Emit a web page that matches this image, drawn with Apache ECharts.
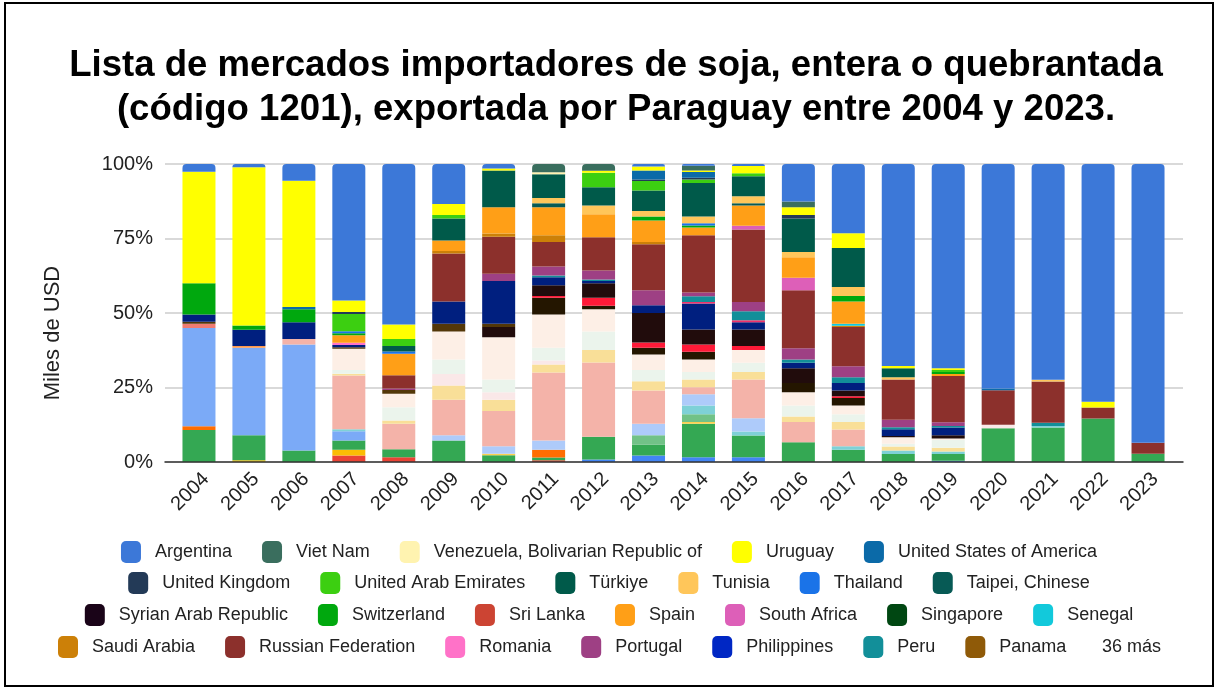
<!DOCTYPE html>
<html>
<head>
<meta charset="utf-8">
<script src="https://cdn.jsdelivr.net/npm/echarts@6/dist/echarts.min.js"></script>
<style>
html,body{margin:0;padding:0;background:#fff;}
#chart{width:1218px;height:689px;}
</style>
</head>
<body>
<div id="chart"></div>
<script>
// ---- DATA (percent share of each market per year) ----
const years = ['2004','2005','2006','2007','2008','2009','2010','2011','2012','2013','2014','2015','2016','2017','2018','2019','2020','2021','2022','2023'];
const yTicks = ['0%','25%','50%','75%','100%'];

// hidden markets (part of the "36 más")
const algeria     = [0,0,0,0,0,0,0,0,0.8,2.2,1.6,1.6,0,0,0,0.4,0,0,0,0];
const bangladesh  = [0,0,0,2.2,1.6,0,0,0.6,0,0,0,0,0,0,0,0,0,0,0,0];
const belgium     = [0,0.6,0,1.9,0,0,0,0,0,0,0,0,0,0,0,0,0,0,0,0];
const brazil      = [10.7,8.4,3.9,3.1,2.7,7.2,2.3,0.9,7.7,3.7,11.2,7.3,6.6,4.1,2.7,2.3,11.3,11.6,14.6,2.8];
const chile       = [1.3,0,0,0,0,0,0,2.6,0,0,0,0,0,0,0,0,0,0,0,0];
const china       = [33.0,29.3,35.5,3.1,0,0,0,0,0,0,0,0,0,0,0,0,0,0,0,0];
const colombia    = [0,0.6,0,0,0,0,0,0,0,0,0,0,0,0,0,0,0,0,0,0];
const cuba        = [1.4,0,0,0,0,0,0,0,0,0,0,0,0,0,0,0,0,0,0,0];
const egypt       = [0,0,0,0,0,0,0.5,0,0,0,0.6,0,0,0,0,0,0,0,0,0];
const germany     = [0,0,0,0,0,0,0,0,0,3.1,2.6,0,0,0,0,0,0,0,0,0];
const india       = [0,0,0,0.7,0,0,0,0,0,0,3.0,1.3,0,1.2,1.2,0.8,0,0.5,0,0];
const indonesia   = [0,0,0,0,0,1.8,2.5,3.1,0,3.8,3.7,4.5,0,0,0,0,0,0,0,0];
const italy       = [0,0,1.9,18.0,8.5,11.9,11.8,22.8,24.9,11.2,2.4,13.0,6.8,5.6,0,0,0,0,0,0];
const japan       = [0,0,0,0.6,1.1,4.8,3.8,2.7,4.2,3.1,2.6,2.5,1.9,2.5,1.3,1.3,0,0,0,0];
const korea       = [0,0,0,0,0,3.8,2.5,1.4,0,0,0,0,0,0,0,0,1.2,0,0,0];
const lebanon     = [0,0,0,1.3,4.5,4.9,4.3,4.2,6.2,3.8,2.5,3.1,3.7,2.6,0.9,2.6,0,0,0,0];
const mexico      = [0,0,0,7.1,4.5,9.4,14.2,11.2,7.5,5.2,4.2,4.3,4.4,3.0,2.2,0.5,0,0,0,0];
const morocco     = [0,0,0,0,0,0,0,5.6,1.1,2.2,2.6,0,3.1,2.5,0,0,0,0,0,0];
const netherlands = [0,0,0,0,0,0,0,0.6,2.7,1.8,2.4,1.3,0,0.6,0,0,0,0,0,0];
const norway      = [0,0,0,0,0,0,3.4,3.6,4.9,9.9,5.1,5.6,5.0,1.9,0.4,1.1,0,0,0,0];
const oman        = [0.7,0,0,0.5,1.3,2.6,1.1,0,0,0,0,0,0,0,0,0,0,0,0,0];
const pakistan    = [2.4,5.5,5.6,0.8,0,7.5,14.3,2.7,0.7,2.6,8.7,2.4,1.8,2.5,2.3,2.6,0,0,0,0];
const palestine   = [0,0,0,0,0,0,0,0,0,0,0.5,0.7,0,0,0,0,0,0,0,0];
// markets shown in the legend
const panama      = [0,0,0,0,0,0,0,0,0,0,0,0,0,0,0,0,0,0,0,0];
const peru        = [0,0,0,0,0,0,0,0.6,0.5,0,1.9,3.0,1.1,1.9,0.7,0.5,0,1.1,0,0];
const philippines = [0,0,0,0,0,0,0,0,0,0,0,0,0,0,0,0,0,0,0,0];
const portugal    = [0,0,0,0,0.5,0,2.5,3.0,3.1,5.0,1.3,3.1,3.8,3.7,2.5,1.2,0,0,0,0];
const romania     = [0,0,0,0.7,0,0,0,0,0,0,0,0,0,0,0,0,0,0,0,0];
const russia      = [0,0,0,0,4.4,16.1,12.4,8.2,11.1,15.5,19.2,24.3,19.4,13.2,13.5,15.6,11.6,13.8,3.7,3.7];
const saudi       = [0,0,0,0,0,0.8,1.1,2.3,0,0.7,0,0,0,0.4,0,0,0,0,0,0];
const senegal     = [0,0,0,0,0,0,0,0,0,0,0,0,0,0.7,0,0,0,0,0,0];
const singapore   = [0,0,0,0,0,0,0,0,0,0,0,0,0,0,0,0,0,0,0,0];
const southAfrica = [0,0,0,0,0,0,0,0,0,0,0,1.3,4.2,0,0,0,0,0,0,0];
const spain       = [0,0,0,2.5,7.2,3.5,8.8,9.4,7.7,7.2,2.6,6.8,6.9,7.5,0,0.6,0,0,0,0];
const sriLanka    = [0,0,0,0,0,0,0,0,0,0,0,0,0,0,0,0,0,0,0,0];
const switzerland = [10.5,1.4,4.4,0.7,0,0,0,0,0,1.4,0.7,0,0,1.8,0,0.7,0,0,0,0];
const syria       = [0,0,0,0,0,0,0,0,0,0,0,0,0,0,0,0,0,0,0,0];
const taipei      = [0,0,0,0,0,0,0,1.3,0,0,0,0.7,0,0,0,0,0,0,0,0];
const thailand    = [0,0,0,0.7,0.8,0,0,0,0,0,0.7,0,0,0,0,0,0,0,0,0];
const tunisia     = [0,0,0,0,0,0,0,1.8,3.0,1.8,2.3,2.4,1.8,3.0,0.7,0,0,0.6,0,0];
const turkiye     = [0,0,0,0,1.8,7.4,12.3,8.0,6.1,6.9,11.2,6.7,11.2,13.1,3.1,0,0,0,0,0];
const uae         = [0,0,0,5.8,2.4,1.2,0,0,4.9,3.2,1.2,1.0,0,0,0,0.7,0,0,0,0];
const uk          = [0,0,0,0.6,0,0,0,0,0,0.5,0.6,0,1.2,0,0,0,0,0,0,0];
const usa         = [0,0,0.7,0,0,0,0,0,0,3.0,1.9,0,0,0,0,0,0.6,0,0,0];
const uruguay     = [37.4,53.1,42.4,3.9,4.8,3.7,0.7,0,0.6,1.4,0.5,2.4,2.6,5.0,0.7,0.6,0,0,1.9,0];
const venezuela   = [0,0,0,0,0,0,0,0.6,0,0,0,0,0,0,0,0,0,0,0,0];
const vietNam     = [0,0,0,0,0,0,0,2.8,2.3,0,1.6,0,1.9,0,0,0,0,0,0,0];
const argentina   = [2.6,1.1,5.6,45.8,53.9,13.4,1.5,0,0,0.8,0.6,0.7,12.6,23.2,67.8,68.5,75.3,72.4,79.8,93.5];

// stacking order, bottom to top
const stackOrder = [
  ['Algeria', algeria], ['Bangladesh', bangladesh], ['Belgium', belgium], ['Brazil', brazil],
  ['Chile', chile], ['China', china], ['Colombia', colombia], ['Cuba', cuba], ['Egypt', egypt],
  ['Germany', germany], ['India', india], ['Indonesia', indonesia], ['Italy', italy], ['Japan', japan],
  ['Korea, Republic of', korea], ['Lebanon', lebanon], ['Mexico', mexico], ['Morocco', morocco],
  ['Netherlands', netherlands], ['Norway', norway], ['Oman', oman], ['Pakistan', pakistan],
  ['Palestine, State of', palestine],
  ['Panama', panama], ['Peru', peru], ['Philippines', philippines], ['Portugal', portugal],
  ['Romania', romania], ['Russian Federation', russia], ['Saudi Arabia', saudi], ['Senegal', senegal],
  ['Singapore', singapore], ['South Africa', southAfrica], ['Spain', spain], ['Sri Lanka', sriLanka],
  ['Switzerland', switzerland], ['Syrian Arab Republic', syria], ['Taipei, Chinese', taipei],
  ['Thailand', thailand], ['Tunisia', tunisia], ['Türkiye', turkiye], ['United Arab Emirates', uae],
  ['United Kingdom', uk], ['United States of America', usa], ['Uruguay', uruguay],
  ['Venezuela, Bolivarian Republic of', venezuela], ['Viet Nam', vietNam], ['Argentina', argentina]
];

const legendRow1 = ['Argentina','Viet Nam','Venezuela, Bolivarian Republic of','Uruguay','United States of America'];
const legendRow2 = ['United Kingdom','United Arab Emirates','Türkiye','Tunisia','Thailand','Taipei, Chinese'];
const legendRow3 = ['Syrian Arab Republic','Switzerland','Sri Lanka','Spain','South Africa','Singapore','Senegal'];
const legendRow4 = ['Saudi Arabia','Russian Federation','Romania','Portugal','Philippines','Peru','Panama'];
const moreLabel = '36 más';
const yAxisTitle = 'Miles de USD';

// ---- STYLES ----
const colors = {
  'Algeria':'#4285f4','Bangladesh':'#ea4335','Belgium':'#fbbc04','Brazil':'#34a853','Chile':'#ff6d01',
  'China':'#7baaf7','Colombia':'#ff994d','Cuba':'#f07b72','Egypt':'#fcd04f','Germany':'#71c287',
  'India':'#7ed1d7','Indonesia':'#aecbfa','Italy':'#f4b3a9','Japan':'#f9df98','Korea, Republic of':'#fae8e8',
  'Lebanon':'#ebf4ec','Mexico':'#fdefe6','Morocco':'#241600','Netherlands':'#ff1a38','Norway':'#210c0c',
  'Oman':'#533708','Pakistan':'#001f7f','Palestine, State of':'#f0306a',
  'Panama':'#8f5a08','Peru':'#128f99','Philippines':'#0027c4','Portugal':'#9e4084','Romania':'#ff72c8',
  'Russian Federation':'#8c302c','Saudi Arabia':'#cc8008','Senegal':'#12c9db','Singapore':'#004712',
  'South Africa':'#dd5fb8','Spain':'#ff9f17','Sri Lanka':'#cc4433','Switzerland':'#00a80e',
  'Syrian Arab Republic':'#1a0418','Taipei, Chinese':'#075a55','Thailand':'#1a73e8','Tunisia':'#ffc65a',
  'Türkiye':'#005a4a','United Arab Emirates':'#3ccf11','United Kingdom':'#233a57',
  'United States of America':'#0b6aa8','Uruguay':'#ffff00','Venezuela, Bolivarian Republic of':'#fff3b0',
  'Viet Nam':'#3a6e5e','Argentina':'#3c78d8'
};
const FONT = '"Liberation Sans", Arial, sans-serif';

// top segment of each bar gets rounded corners
const topIndex = years.map((_, j) => {
  let t = -1;
  stackOrder.forEach((s, i) => { if (s[1][j] > 0) t = i; });
  return t;
});

const series = stackOrder.map((s, i) => ({
  name: s[0],
  type: 'bar',
  stack: 'total',
  xAxisIndex: 1, yAxisIndex: 1,
  barWidth: 33,
  itemStyle: { color: colors[s[0]] },
  emphasis: { disabled: true },
  data: s[1].map((v, j) => topIndex[j] === i
    ? { value: v, itemStyle: { borderRadius: [4, 4, 0, 0] } }
    : v)
}));

function legendRow(data, left, top) {
  return {
    data: data, left: left, top: top, orient: 'horizontal', padding: 0,
    itemWidth: 20, itemHeight: 22, itemGap: 30, icon: 'roundRect',
    selectedMode: false,
    textStyle: { fontSize: 18, color: '#222', fontFamily: FONT, padding: [0, 0, 0, 9] }
  };
}

const chart = echarts.init(document.getElementById('chart'), null, { renderer: 'canvas' });
chart.setOption({
  animation: false,
  backgroundColor: '#fff',
  title: {
    text: 'Lista de mercados importadores de soja, entera o quebrantada\n(código 1201), exportada por Paraguay entre 2004 y 2023.',
    left: 611, top: 39, textAlign: 'center',
    textStyle: { fontSize: 36.6, fontWeight: 'bold', color: '#000', fontFamily: FONT, lineHeight: 44 }
  },
  legend: [
    legendRow(legendRow1, 'center', 541),
    legendRow(legendRow2, 'center', 572),
    legendRow(legendRow3, 'center', 604),
    legendRow(legendRow4, 58, 636)
  ],
  grid: [
    { left: 165, right: 35, top: 164, bottom: 227, containLabel: false },
    { left: 174, right: 45, top: 164, bottom: 227, containLabel: false }
  ],
  xAxis: [
    { gridIndex: 0, type: 'category', data: years,
      axisTick: { show: false }, axisLabel: { show: false },
      axisLine: { lineStyle: { color: '#333', width: 1.5 } }, z: 5 },
    { gridIndex: 1, type: 'category', data: years,
      axisTick: { show: false }, axisLine: { show: false },
      axisLabel: { rotate: 45, fontSize: 20, color: '#222', fontFamily: FONT, margin: 7,
        verticalAlign: 'top' } }
  ],
  yAxis: [
    { gridIndex: 0, type: 'value', min: 0, max: 100, interval: 25,
      axisLine: { show: false }, axisTick: { show: false },
      axisLabel: { fontSize: 20, color: '#222', fontFamily: FONT, margin: 12,
        formatter: v => yTicks[Math.round(v / 25)] },
      splitLine: { lineStyle: { color: '#cccccc', width: 1.5 } } },
    { gridIndex: 1, type: 'value', min: 0, max: 100, interval: 25,
      axisLine: { show: false }, axisTick: { show: false },
      axisLabel: { show: false }, splitLine: { show: false } }
  ],
  graphic: [
    { type: 'rect', shape: { x: 5, y: 3, width: 1208, height: 683 },
      style: { fill: 'none', stroke: '#000', lineWidth: 2 }, silent: true },
    { type: 'text', x: 53, y: 333, rotation: Math.PI / 2,
      style: { text: yAxisTitle, font: '22px ' + FONT, fill: '#222',
        textAlign: 'center', textVerticalAlign: 'middle' }, silent: true },
    { type: 'text', left: 1102, top: 636,
      style: { text: moreLabel, font: '18px ' + FONT, fill: '#222', lineHeight: 22 }, silent: true }
  ],
  series: series
});
</script>
</body>
</html>
